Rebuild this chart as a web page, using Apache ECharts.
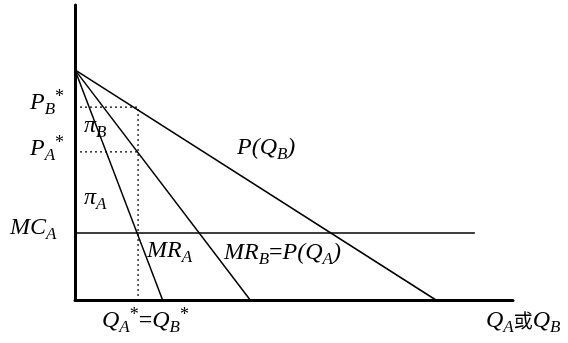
<!DOCTYPE html>
<html>
<head>
<meta charset="utf-8">
<script src="https://cdn.jsdelivr.net/npm/echarts@6/dist/echarts.min.js"></script>
<style>
  html, body { margin: 0; padding: 0; background: #fff; }
  #main { width: 568px; height: 343px; }
</style>
</head>
<body>
<div id="main"></div>
<script>
// curves of the diagram, in axis units (x: 0..10, y: 0..10)
const demandB = [[0, 7.8], [8.24, 0]];   // P(Q_B)
const mrB = [[0, 7.8], [4.0, 0]];        // MR_B = P(Q_A)
const mrA = [[0, 7.8], [2.0, 0]];        // MR_A
const mcA = [[0, 2.27], [9.13, 2.27]];   // MC_A
const qStar = 1.44;
const pB = 6.54;
const pA = 5.02;
const guideB = [[0, pB], [qStar, pB], [qStar, 0]];
const guideA = [[0, pA], [qStar, pA]];

const serif = "'Liberation Serif', 'Times New Roman', 'Noto Sans CJK SC', serif";
const rich = {
  m: { fontFamily: serif, fontStyle: 'italic', fontSize: 24, lineHeight: 30, color: '#000' },
  n: { fontFamily: serif, fontStyle: 'normal', fontSize: 24, lineHeight: 30, color: '#000' },
  c: { fontFamily: "'Noto Sans CJK SC', sans-serif", fontSize: 19, lineHeight: 30, color: '#000' },
  s: { fontFamily: serif, fontStyle: 'italic', fontSize: 17, lineHeight: 13, verticalAlign: 'bottom', color: '#000' },
  u: { fontFamily: serif, fontSize: 18, lineHeight: 13, verticalAlign: 'top', color: '#000' }
};

function label(text, x, y) {
  return {
    type: 'text',
    left: x,
    top: y - 15,
    style: { text: text, rich: rich, fill: '#000' }
  };
}

const chart = echarts.init(document.getElementById('main'));

function line(data, dashed, width) {
  return {
    type: 'line',
    data: data,
    symbol: 'none',
    silent: true,
    animation: false,
    lineStyle: { color: '#000', width: width, type: dashed ? [2, 3] : 'solid' }
  };
}

chart.setOption({
  animation: false,
  grid: { left: 75, right: 55, top: 5, bottom: 43 },
  xAxis: {
    type: 'value', min: 0, max: 10,
    axisLine: { show: true, lineStyle: { color: '#000', width: 3 } },
    axisTick: { show: false }, axisLabel: { show: false }, splitLine: { show: false }
  },
  yAxis: {
    type: 'value', min: 0, max: 10,
    axisLine: { show: true, lineStyle: { color: '#000', width: 3 } },
    axisTick: { show: false }, axisLabel: { show: false }, splitLine: { show: false }
  },
  series: [
    line(demandB, false, 1.5),
    line(mrB, false, 1.5),
    line(mrA, false, 1.5),
    line(mcA, false, 1.5),
    line(guideB, true, 1.2),
    line(guideA, true, 1.2)
  ],
  graphic: [
    label('{m|P}{s|B}{u|*}', 30, 103),
    label('{m|P}{s|A}{u|*}', 30, 149),
    label('{m|MC}{s|A}', 10, 231),
    label('{m|π}{s|B}', 84, 129),
    label('{m|π}{s|A}', 84, 201),
    label('{m|MR}{s|A}', 147, 254),
    label('{m|MR}{s|B}{n|=}{m|P(Q}{s|A}{m|)}', 224, 256),
    label('{m|P(Q}{s|B}{m|)}', 237, 151),
    label('{m|Q}{s|A}{u|*}{n|=}{m|Q}{s|B}{u|*}', 102, 321),
    label('{m|Q}{s|A}{c|或}{m|Q}{s|B}', 486, 324)
  ]
});
</script>
</body>
</html>
